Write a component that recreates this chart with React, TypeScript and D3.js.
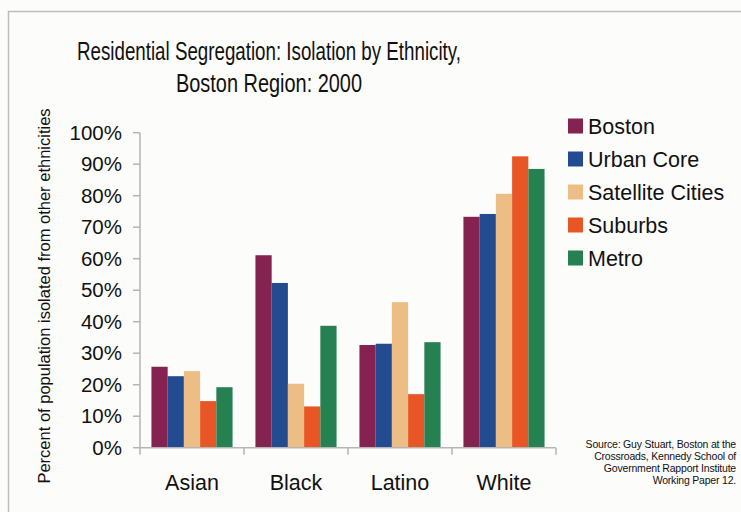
import React, { useEffect, useRef } from "react";
import * as d3 from "d3";

const categories = ["Asian", "Black", "Latino", "White"];
const seriesNames = ["Boston", "Urban Core", "Satellite Cities", "Suburbs", "Metro"];
const seriesColors = ["#84234F", "#234B8F", "#EDBD86", "#E95625", "#268152"];
// values in percent, one array per series (Asian, Black, Latino, White)
const boston = [25.7, 61.1, 32.6, 73.3];
const urbanCore = [22.7, 52.3, 33.0, 74.2];
const satelliteCities = [24.3, 20.3, 46.2, 80.6];
const suburbs = [14.8, 13.1, 17.0, 92.5];
const metro = [19.2, 38.7, 33.5, 88.5];
const yTicks = [0, 10, 20, 30, 40, 50, 60, 70, 80, 90, 100];
const titleLines = ["Residential Segregation: Isolation by Ethnicity,", "Boston Region: 2000"];
const sourceLines = [
  "Source: Guy Stuart, Boston at the",
  "Crossroads, Kennedy School of",
  "Government Rapport Institute",
  "Working Paper 12.",
];

const W = 741;
const H = 512;
const FONT = "'Liberation Sans', Arial, sans-serif";

export default function App() {
  const ref = useRef<SVGSVGElement>(null);

  useEffect(() => {
    const svg = d3.select(ref.current);
    svg.selectAll("*").remove();

    const values = [boston, urbanCore, satelliteCities, suburbs, metro];
    const left = 140;
    const right = 556;
    const top = 132.7;
    const bottom = 447.7;

    // background and frame
    svg.append("rect").attr("width", W).attr("height", H).attr("fill", "#FCFCFA");
    svg
      .append("path")
      .attr("d", `M8.5,${H} V11.5 H${W}`)
      .attr("fill", "none")
      .attr("stroke", "#BDBDBD")
      .attr("stroke-width", 1.5);

    // title (narrow face, squeezed to fit like the original)
    const titleWidths = [384, 186];
    svg
      .selectAll(".title")
      .data(titleLines)
      .enter()
      .append("text")
      .attr("class", "title")
      .attr("x", 269)
      .attr("y", (d, i) => 60 + i * 32)
      .attr("text-anchor", "middle")
      .attr("textLength", (d, i) => titleWidths[i])
      .attr("lengthAdjust", "spacingAndGlyphs")
      .style("font-family", FONT)
      .style("font-size", "25px")
      .attr("fill", "#111")
      .text(d => d);

    const x = d3
      .scaleBand<string>()
      .domain(categories)
      .range([left, right])
      .paddingInner(0.22)
      .paddingOuter(0.11);
    const xs = d3
      .scaleBand<number>()
      .domain(d3.range(seriesNames.length))
      .range([0, x.bandwidth()]);
    const y = d3.scaleLinear().domain([0, 100]).range([bottom, top]);

    // bars
    const g = svg.append("g");
    values.forEach((vals, s) => {
      g.selectAll(".bar-" + s)
        .data(vals)
        .enter()
        .append("rect")
        .attr("class", "bar-" + s)
        .attr("x", (d, i) => (x(categories[i]) as number) + (xs(s) as number))
        .attr("width", xs.bandwidth())
        .attr("y", d => y(d))
        .attr("height", d => bottom - y(d))
        .attr("fill", seriesColors[s]);
    });

    // y axis
    const axisColor = "#B5B5B5";
    svg
      .append("line")
      .attr("x1", left)
      .attr("x2", left)
      .attr("y1", top)
      .attr("y2", bottom)
      .attr("stroke", axisColor)
      .attr("stroke-width", 1.5);
    svg
      .selectAll(".ytick")
      .data(yTicks)
      .enter()
      .append("line")
      .attr("x1", left - 7)
      .attr("x2", left)
      .attr("y1", d => y(d))
      .attr("y2", d => y(d))
      .attr("stroke", axisColor)
      .attr("stroke-width", 1.5);
    svg
      .selectAll(".ylabel")
      .data(yTicks)
      .enter()
      .append("text")
      .attr("x", 122)
      .attr("y", d => y(d) + 7)
      .attr("text-anchor", "end")
      .style("font-family", FONT)
      .style("font-size", "20.5px")
      .attr("fill", "#111")
      .text(d => d + "%");

    // x axis
    svg
      .append("line")
      .attr("x1", left)
      .attr("x2", right)
      .attr("y1", bottom)
      .attr("y2", bottom)
      .attr("stroke", axisColor)
      .attr("stroke-width", 1.5);
    const step = x.step();
    svg
      .selectAll(".xtick")
      .data(d3.range(categories.length + 1))
      .enter()
      .append("line")
      .attr("x1", d => left + d * step)
      .attr("x2", d => left + d * step)
      .attr("y1", bottom)
      .attr("y2", bottom + 7)
      .attr("stroke", axisColor)
      .attr("stroke-width", 1.5);
    svg
      .selectAll(".xlabel")
      .data(categories)
      .enter()
      .append("text")
      .attr("x", d => (x(d) as number) + x.bandwidth() / 2)
      .attr("y", 490)
      .attr("text-anchor", "middle")
      .style("font-family", FONT)
      .style("font-size", "21.5px")
      .attr("fill", "#111")
      .text(d => d);

    // y axis title
    svg
      .append("text")
      .attr("transform", "translate(50,296) rotate(-90)")
      .attr("text-anchor", "middle")
      .style("font-family", FONT)
      .style("font-size", "16.5px")
      .attr("fill", "#111")
      .text("Percent of population isolated from other ethnicities");

    // legend
    const legend = svg
      .selectAll(".legend")
      .data(seriesNames)
      .enter()
      .append("g")
      .attr("transform", (d, i) => `translate(568,${126 + i * 33})`);
    legend
      .append("rect")
      .attr("x", 0)
      .attr("y", -7.5)
      .attr("width", 15)
      .attr("height", 15)
      .attr("fill", (d, i) => seriesColors[i]);
    legend
      .append("text")
      .attr("x", 20)
      .attr("y", 7.5)
      .style("font-family", FONT)
      .style("font-size", "21.5px")
      .attr("fill", "#111")
      .text(d => d);

    // source note
    svg
      .selectAll(".source")
      .data(sourceLines)
      .enter()
      .append("text")
      .attr("x", 736)
      .attr("y", (d, i) => 448 + i * 12)
      .attr("text-anchor", "end")
      .style("font-family", "'Liberation Sans Narrow', 'Liberation Sans', sans-serif")
      .style("font-size", "10.5px")
      .style("letter-spacing", "-0.2px")
      .attr("fill", "#111")
      .text(d => d);
  }, []);

  return (
    <svg
      ref={ref}
      width={W}
      height={H}
      style={{ position: "absolute", left: 0, top: 0, display: "block" }}
    />
  );
}
